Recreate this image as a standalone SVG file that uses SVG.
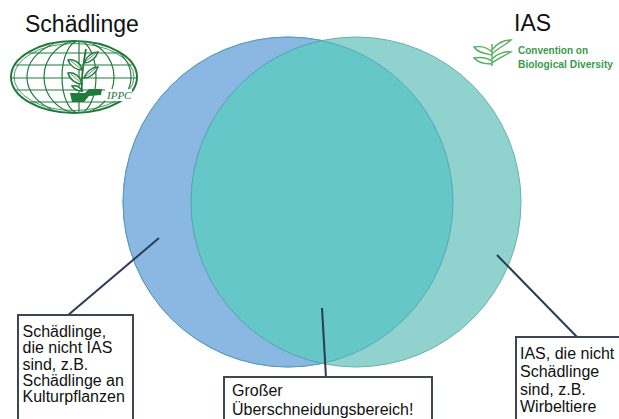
<svg xmlns="http://www.w3.org/2000/svg" width="619" height="419" viewBox="0 0 619 419">
<style>
.title{font-family:"Liberation Sans",Arial,sans-serif;font-size:23px;fill:#111}
.lbl{font-family:"Liberation Sans",Arial,sans-serif;font-size:16px;fill:#111}
.box{fill:#fff;stroke:#3b4657;stroke-width:2}
.conn{stroke:#2a3b57;stroke-width:2;fill:none}
.cbd{font-family:"Liberation Sans",Arial,sans-serif;font-weight:bold;font-size:11px;fill:#3a9a4c}
</style>
<defs>
<clipPath id="blueClip"><circle cx="288" cy="202" r="165"/></clipPath>
<clipPath id="ippcClip"><ellipse cx="74" cy="77" rx="62" ry="35"/></clipPath>
</defs>
<rect width="619" height="419" fill="#fff"/>

<g id="set-schaedlinge">
<circle cx="288" cy="202" r="165" fill="#8bb8e2" stroke="#6d98bf" stroke-width="1"/>
</g>
<g id="set-ias">
<circle cx="356" cy="202" r="165" fill="#90d3ce" stroke="#6aaeb0" stroke-width="1"/>
</g>
<g id="overlap">
<circle cx="356" cy="202" r="165" fill="#66c7c8" clip-path="url(#blueClip)"/>
<circle cx="288" cy="202" r="165" fill="none" stroke="#4f9fae" stroke-width="0.8"/>
<circle cx="356" cy="202" r="165" fill="none" stroke="#4f9fae" stroke-width="0.8" clip-path="url(#blueClip)"/>
</g>

<g id="title-left"><text class="title" x="25" y="32">Schädlinge</text></g>
<g id="title-right"><text class="title" x="514" y="31">IAS</text></g>

<g id="ippc-logo" fill="none" stroke="#217a3c" stroke-width="1.2">
<g clip-path="url(#ippcClip)">
<line x1="0" y1="53" x2="150" y2="53"/>
<line x1="0" y1="65" x2="150" y2="65"/>
<line x1="0" y1="78" x2="150" y2="78"/>
<line x1="0" y1="90" x2="150" y2="90"/>
<line x1="0" y1="102" x2="150" y2="102"/>
<line x1="79" y1="30" x2="79" y2="130"/>
<ellipse cx="79" cy="77" rx="17" ry="36"/>
<ellipse cx="79" cy="77" rx="35" ry="36"/>
<ellipse cx="79" cy="77" rx="52" ry="38"/>
</g>
<ellipse cx="74" cy="77" rx="63" ry="36" stroke-width="2"/>
<ellipse cx="74" cy="77" rx="60" ry="33.5" stroke-width="0.8"/>
<path d="M82,92 C81,80 83,65 86,49" stroke-width="1.8"/>
<g fill="#fff" stroke-width="1.5">
<path d="M82,70 C76,70 70,66 68,60 C74,59 80,62 82,70 Z"/>
<path d="M84,63 C86,57 92,52 98,52 C96,58 90,63 84,63 Z"/>
<path d="M82,84 C76,84 70,80 68,73 C74,72 80,76 82,84 Z"/>
<path d="M84,78 C86,72 92,67 98,67 C96,73 90,78 84,78 Z"/>
<path d="M82,91 C78,91 74,89 72,86 C76,85 80,87 82,91 Z"/>
</g>
<g stroke-width="0.8">
<path d="M81,69 L71,61"/><path d="M85,62 L96,53"/><path d="M81,83 L71,74"/><path d="M85,77 L96,68"/>
</g>
<path d="M70,93 L85,93 L89,89 L102,89 L101,95 L89,96 L84,102 L72,102 Z" fill="#217a3c" stroke="none"/>
<rect x="105" y="89" width="27" height="12" fill="#fff" stroke="none"/>
<text x="107" y="99" font-family="'Liberation Serif',serif" font-style="italic" font-size="11" fill="#217a3c" stroke="none">IPPC</text>
</g>

<g id="cbd-logo">
<g fill="none" stroke="#56ad62" stroke-width="1.4">
<path d="M492,66 L492,44"/>
<path d="M492,54 C498,48 504,46 511,40 C506,40 498,42 492,50"/>
<path d="M492,63 C498,58 504,56 511,52 C506,51 498,53 492,59"/>
<path d="M492,52 C486,46 480,46 474,47 C478,53 486,54 492,55"/>
<path d="M492,61 C486,57 480,57 474,58 C478,63 486,64 492,64"/>
</g>
<text class="cbd" x="518" y="54" textLength="70" lengthAdjust="spacingAndGlyphs">Convention on</text>
<text class="cbd" x="518" y="68" textLength="95" lengthAdjust="spacingAndGlyphs">Biological Diversity</text>
</g>

<g id="connectors">
<line class="conn" x1="159" y1="238" x2="67" y2="316"/>
<line class="conn" x1="322" y1="308" x2="326" y2="378"/>
<line class="conn" x1="497" y1="255" x2="578" y2="338"/>
</g>

<g id="box-left">
<rect class="box" x="18" y="315" width="115" height="120"/>
<text class="lbl" x="22.5" y="337">Schädlinge,</text>
<text class="lbl" x="22.5" y="353.3">die nicht IAS</text>
<text class="lbl" x="22.5" y="369.6">sind, z.B.</text>
<text class="lbl" x="22.5" y="386">Schädlinge an</text>
<text class="lbl" x="22.5" y="402.3">Kulturpflanzen</text>
</g>

<g id="box-middle">
<rect class="box" x="224" y="377" width="208" height="60"/>
<text class="lbl" x="232" y="396">Großer</text>
<text class="lbl" x="232" y="415">Überschneidungsbereich!</text>
</g>

<g id="box-right">
<rect class="box" x="516" y="337" width="110" height="100"/>
<text class="lbl" x="520" y="359">IAS, die nicht</text>
<text class="lbl" x="520" y="377">Schädlinge</text>
<text class="lbl" x="520" y="394.5">sind, z.B.</text>
<text class="lbl" x="520" y="412">Wirbeltiere</text>
</g>
</svg>
